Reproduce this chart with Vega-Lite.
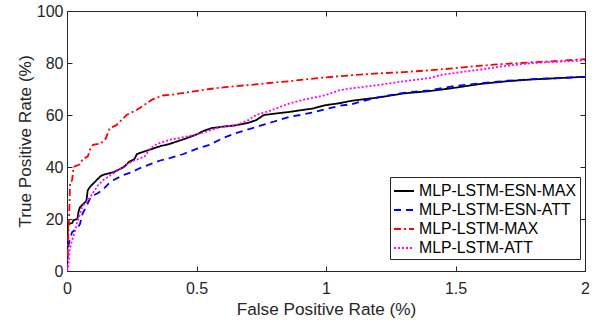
{
  "$schema": "https://vega.github.io/schema/vega-lite/v6.json",
  "autosize": {"type": "none"},
  "padding": {"left": 67, "top": 11, "right": 10, "bottom": 51},
  "width": 518,
  "height": 260,
  "background": "white",
  "config": {
    "view": {"stroke": "#262626", "strokeWidth": 1},
    "font": "Liberation Sans",
    "axis": {
      "domainColor": "#262626",
      "labelColor": "#262626",
      "titleColor": "#262626",
      "labelFont": "Liberation Sans",
      "titleFont": "Liberation Sans",
      "labelFontSize": 16,
      "titleFontSize": 17.2,
      "titleFontWeight": "normal",
      "labelFlush": false,
      "ticks": false,
      "grid": true,
      "gridColor": "#262626",
      "gridOpacity": 1,
      "gridWidth": 1
    }
  },
  "data": {
    "values": [
      {"model":"MLP-LSTM-ESN-MAX","fpr":0,"tpr":0},
      {"model":"MLP-LSTM-ESN-MAX","fpr":0.003,"tpr":18},
      {"model":"MLP-LSTM-ESN-MAX","fpr":0.02,"tpr":18.5},
      {"model":"MLP-LSTM-ESN-MAX","fpr":0.025,"tpr":19.5},
      {"model":"MLP-LSTM-ESN-MAX","fpr":0.04,"tpr":20},
      {"model":"MLP-LSTM-ESN-MAX","fpr":0.045,"tpr":23},
      {"model":"MLP-LSTM-ESN-MAX","fpr":0.05,"tpr":24.5},
      {"model":"MLP-LSTM-ESN-MAX","fpr":0.065,"tpr":26},
      {"model":"MLP-LSTM-ESN-MAX","fpr":0.075,"tpr":27},
      {"model":"MLP-LSTM-ESN-MAX","fpr":0.08,"tpr":31},
      {"model":"MLP-LSTM-ESN-MAX","fpr":0.09,"tpr":32.5},
      {"model":"MLP-LSTM-ESN-MAX","fpr":0.1,"tpr":33.5},
      {"model":"MLP-LSTM-ESN-MAX","fpr":0.11,"tpr":34.5},
      {"model":"MLP-LSTM-ESN-MAX","fpr":0.12,"tpr":35.5},
      {"model":"MLP-LSTM-ESN-MAX","fpr":0.13,"tpr":36.5},
      {"model":"MLP-LSTM-ESN-MAX","fpr":0.14,"tpr":37},
      {"model":"MLP-LSTM-ESN-MAX","fpr":0.16,"tpr":37.5},
      {"model":"MLP-LSTM-ESN-MAX","fpr":0.18,"tpr":38},
      {"model":"MLP-LSTM-ESN-MAX","fpr":0.2,"tpr":39},
      {"model":"MLP-LSTM-ESN-MAX","fpr":0.22,"tpr":40},
      {"model":"MLP-LSTM-ESN-MAX","fpr":0.24,"tpr":42},
      {"model":"MLP-LSTM-ESN-MAX","fpr":0.26,"tpr":43},
      {"model":"MLP-LSTM-ESN-MAX","fpr":0.27,"tpr":45},
      {"model":"MLP-LSTM-ESN-MAX","fpr":0.3,"tpr":46},
      {"model":"MLP-LSTM-ESN-MAX","fpr":0.33,"tpr":47},
      {"model":"MLP-LSTM-ESN-MAX","fpr":0.36,"tpr":48},
      {"model":"MLP-LSTM-ESN-MAX","fpr":0.4,"tpr":49},
      {"model":"MLP-LSTM-ESN-MAX","fpr":0.43,"tpr":50},
      {"model":"MLP-LSTM-ESN-MAX","fpr":0.46,"tpr":51},
      {"model":"MLP-LSTM-ESN-MAX","fpr":0.5,"tpr":52.5},
      {"model":"MLP-LSTM-ESN-MAX","fpr":0.53,"tpr":54},
      {"model":"MLP-LSTM-ESN-MAX","fpr":0.56,"tpr":55},
      {"model":"MLP-LSTM-ESN-MAX","fpr":0.6,"tpr":55.5},
      {"model":"MLP-LSTM-ESN-MAX","fpr":0.65,"tpr":56},
      {"model":"MLP-LSTM-ESN-MAX","fpr":0.7,"tpr":57},
      {"model":"MLP-LSTM-ESN-MAX","fpr":0.73,"tpr":58},
      {"model":"MLP-LSTM-ESN-MAX","fpr":0.76,"tpr":60},
      {"model":"MLP-LSTM-ESN-MAX","fpr":0.8,"tpr":60.5},
      {"model":"MLP-LSTM-ESN-MAX","fpr":0.86,"tpr":61.2},
      {"model":"MLP-LSTM-ESN-MAX","fpr":0.9,"tpr":61.8},
      {"model":"MLP-LSTM-ESN-MAX","fpr":0.95,"tpr":62.5},
      {"model":"MLP-LSTM-ESN-MAX","fpr":1.0,"tpr":63.8},
      {"model":"MLP-LSTM-ESN-MAX","fpr":1.05,"tpr":64.5},
      {"model":"MLP-LSTM-ESN-MAX","fpr":1.1,"tpr":65.5},
      {"model":"MLP-LSTM-ESN-MAX","fpr":1.2,"tpr":66.7},
      {"model":"MLP-LSTM-ESN-MAX","fpr":1.3,"tpr":68.3},
      {"model":"MLP-LSTM-ESN-MAX","fpr":1.4,"tpr":69.2},
      {"model":"MLP-LSTM-ESN-MAX","fpr":1.5,"tpr":70.5},
      {"model":"MLP-LSTM-ESN-MAX","fpr":1.6,"tpr":72},
      {"model":"MLP-LSTM-ESN-MAX","fpr":1.7,"tpr":73},
      {"model":"MLP-LSTM-ESN-MAX","fpr":1.8,"tpr":73.7},
      {"model":"MLP-LSTM-ESN-MAX","fpr":1.9,"tpr":74.2},
      {"model":"MLP-LSTM-ESN-MAX","fpr":2.0,"tpr":74.7},

      {"model":"MLP-LSTM-ESN-ATT","fpr":0,"tpr":0},
      {"model":"MLP-LSTM-ESN-ATT","fpr":0.003,"tpr":8},
      {"model":"MLP-LSTM-ESN-ATT","fpr":0.01,"tpr":12},
      {"model":"MLP-LSTM-ESN-ATT","fpr":0.02,"tpr":15},
      {"model":"MLP-LSTM-ESN-ATT","fpr":0.04,"tpr":16.5},
      {"model":"MLP-LSTM-ESN-ATT","fpr":0.05,"tpr":18},
      {"model":"MLP-LSTM-ESN-ATT","fpr":0.06,"tpr":22},
      {"model":"MLP-LSTM-ESN-ATT","fpr":0.07,"tpr":24},
      {"model":"MLP-LSTM-ESN-ATT","fpr":0.08,"tpr":26},
      {"model":"MLP-LSTM-ESN-ATT","fpr":0.09,"tpr":28},
      {"model":"MLP-LSTM-ESN-ATT","fpr":0.1,"tpr":29},
      {"model":"MLP-LSTM-ESN-ATT","fpr":0.12,"tpr":30},
      {"model":"MLP-LSTM-ESN-ATT","fpr":0.14,"tpr":31.5},
      {"model":"MLP-LSTM-ESN-ATT","fpr":0.16,"tpr":33.5},
      {"model":"MLP-LSTM-ESN-ATT","fpr":0.18,"tpr":35},
      {"model":"MLP-LSTM-ESN-ATT","fpr":0.2,"tpr":36},
      {"model":"MLP-LSTM-ESN-ATT","fpr":0.22,"tpr":37},
      {"model":"MLP-LSTM-ESN-ATT","fpr":0.25,"tpr":38},
      {"model":"MLP-LSTM-ESN-ATT","fpr":0.28,"tpr":39.5},
      {"model":"MLP-LSTM-ESN-ATT","fpr":0.32,"tpr":41},
      {"model":"MLP-LSTM-ESN-ATT","fpr":0.36,"tpr":42.5},
      {"model":"MLP-LSTM-ESN-ATT","fpr":0.4,"tpr":43.5},
      {"model":"MLP-LSTM-ESN-ATT","fpr":0.45,"tpr":45},
      {"model":"MLP-LSTM-ESN-ATT","fpr":0.5,"tpr":47},
      {"model":"MLP-LSTM-ESN-ATT","fpr":0.55,"tpr":48.5},
      {"model":"MLP-LSTM-ESN-ATT","fpr":0.6,"tpr":51},
      {"model":"MLP-LSTM-ESN-ATT","fpr":0.65,"tpr":53},
      {"model":"MLP-LSTM-ESN-ATT","fpr":0.7,"tpr":54.5},
      {"model":"MLP-LSTM-ESN-ATT","fpr":0.75,"tpr":56},
      {"model":"MLP-LSTM-ESN-ATT","fpr":0.8,"tpr":57.5},
      {"model":"MLP-LSTM-ESN-ATT","fpr":0.86,"tpr":59.3},
      {"model":"MLP-LSTM-ESN-ATT","fpr":0.9,"tpr":60},
      {"model":"MLP-LSTM-ESN-ATT","fpr":0.95,"tpr":61},
      {"model":"MLP-LSTM-ESN-ATT","fpr":1.0,"tpr":62.3},
      {"model":"MLP-LSTM-ESN-ATT","fpr":1.05,"tpr":63.5},
      {"model":"MLP-LSTM-ESN-ATT","fpr":1.1,"tpr":64.2},
      {"model":"MLP-LSTM-ESN-ATT","fpr":1.15,"tpr":65.5},
      {"model":"MLP-LSTM-ESN-ATT","fpr":1.2,"tpr":66.8},
      {"model":"MLP-LSTM-ESN-ATT","fpr":1.3,"tpr":68.5},
      {"model":"MLP-LSTM-ESN-ATT","fpr":1.4,"tpr":69.5},
      {"model":"MLP-LSTM-ESN-ATT","fpr":1.5,"tpr":71.2},
      {"model":"MLP-LSTM-ESN-ATT","fpr":1.6,"tpr":72.2},
      {"model":"MLP-LSTM-ESN-ATT","fpr":1.7,"tpr":73.2},
      {"model":"MLP-LSTM-ESN-ATT","fpr":1.8,"tpr":73.8},
      {"model":"MLP-LSTM-ESN-ATT","fpr":1.9,"tpr":74.2},
      {"model":"MLP-LSTM-ESN-ATT","fpr":2.0,"tpr":74.7},

      {"model":"MLP-LSTM-MAX","fpr":0,"tpr":0},
      {"model":"MLP-LSTM-MAX","fpr":0.003,"tpr":10},
      {"model":"MLP-LSTM-MAX","fpr":0.008,"tpr":20},
      {"model":"MLP-LSTM-MAX","fpr":0.012,"tpr":34},
      {"model":"MLP-LSTM-MAX","fpr":0.02,"tpr":35},
      {"model":"MLP-LSTM-MAX","fpr":0.025,"tpr":40},
      {"model":"MLP-LSTM-MAX","fpr":0.05,"tpr":41},
      {"model":"MLP-LSTM-MAX","fpr":0.06,"tpr":43},
      {"model":"MLP-LSTM-MAX","fpr":0.08,"tpr":44},
      {"model":"MLP-LSTM-MAX","fpr":0.09,"tpr":47},
      {"model":"MLP-LSTM-MAX","fpr":0.1,"tpr":48.5},
      {"model":"MLP-LSTM-MAX","fpr":0.13,"tpr":49},
      {"model":"MLP-LSTM-MAX","fpr":0.15,"tpr":51},
      {"model":"MLP-LSTM-MAX","fpr":0.165,"tpr":55},
      {"model":"MLP-LSTM-MAX","fpr":0.19,"tpr":56},
      {"model":"MLP-LSTM-MAX","fpr":0.21,"tpr":58},
      {"model":"MLP-LSTM-MAX","fpr":0.23,"tpr":60},
      {"model":"MLP-LSTM-MAX","fpr":0.25,"tpr":61},
      {"model":"MLP-LSTM-MAX","fpr":0.27,"tpr":62},
      {"model":"MLP-LSTM-MAX","fpr":0.3,"tpr":64},
      {"model":"MLP-LSTM-MAX","fpr":0.33,"tpr":66},
      {"model":"MLP-LSTM-MAX","fpr":0.37,"tpr":67.5},
      {"model":"MLP-LSTM-MAX","fpr":0.42,"tpr":68},
      {"model":"MLP-LSTM-MAX","fpr":0.48,"tpr":69},
      {"model":"MLP-LSTM-MAX","fpr":0.55,"tpr":70},
      {"model":"MLP-LSTM-MAX","fpr":0.62,"tpr":70.8},
      {"model":"MLP-LSTM-MAX","fpr":0.7,"tpr":71.5},
      {"model":"MLP-LSTM-MAX","fpr":0.78,"tpr":72.3},
      {"model":"MLP-LSTM-MAX","fpr":0.86,"tpr":73},
      {"model":"MLP-LSTM-MAX","fpr":0.93,"tpr":73.8},
      {"model":"MLP-LSTM-MAX","fpr":1.0,"tpr":74.5},
      {"model":"MLP-LSTM-MAX","fpr":1.1,"tpr":75.3},
      {"model":"MLP-LSTM-MAX","fpr":1.2,"tpr":76},
      {"model":"MLP-LSTM-MAX","fpr":1.3,"tpr":76.5},
      {"model":"MLP-LSTM-MAX","fpr":1.4,"tpr":77.2},
      {"model":"MLP-LSTM-MAX","fpr":1.5,"tpr":78},
      {"model":"MLP-LSTM-MAX","fpr":1.6,"tpr":79},
      {"model":"MLP-LSTM-MAX","fpr":1.7,"tpr":79.7},
      {"model":"MLP-LSTM-MAX","fpr":1.8,"tpr":80.3},
      {"model":"MLP-LSTM-MAX","fpr":1.9,"tpr":80.8},
      {"model":"MLP-LSTM-MAX","fpr":2.0,"tpr":81.5},

      {"model":"MLP-LSTM-ATT","fpr":0,"tpr":0},
      {"model":"MLP-LSTM-ATT","fpr":0.005,"tpr":1},
      {"model":"MLP-LSTM-ATT","fpr":0.01,"tpr":8},
      {"model":"MLP-LSTM-ATT","fpr":0.02,"tpr":12},
      {"model":"MLP-LSTM-ATT","fpr":0.03,"tpr":15},
      {"model":"MLP-LSTM-ATT","fpr":0.04,"tpr":19},
      {"model":"MLP-LSTM-ATT","fpr":0.05,"tpr":22},
      {"model":"MLP-LSTM-ATT","fpr":0.06,"tpr":25},
      {"model":"MLP-LSTM-ATT","fpr":0.08,"tpr":27},
      {"model":"MLP-LSTM-ATT","fpr":0.1,"tpr":30},
      {"model":"MLP-LSTM-ATT","fpr":0.12,"tpr":33},
      {"model":"MLP-LSTM-ATT","fpr":0.14,"tpr":35},
      {"model":"MLP-LSTM-ATT","fpr":0.17,"tpr":37},
      {"model":"MLP-LSTM-ATT","fpr":0.2,"tpr":39},
      {"model":"MLP-LSTM-ATT","fpr":0.23,"tpr":41},
      {"model":"MLP-LSTM-ATT","fpr":0.26,"tpr":42.5},
      {"model":"MLP-LSTM-ATT","fpr":0.3,"tpr":44},
      {"model":"MLP-LSTM-ATT","fpr":0.32,"tpr":47},
      {"model":"MLP-LSTM-ATT","fpr":0.35,"tpr":49},
      {"model":"MLP-LSTM-ATT","fpr":0.4,"tpr":50.5},
      {"model":"MLP-LSTM-ATT","fpr":0.45,"tpr":51.5},
      {"model":"MLP-LSTM-ATT","fpr":0.5,"tpr":52.5},
      {"model":"MLP-LSTM-ATT","fpr":0.55,"tpr":54},
      {"model":"MLP-LSTM-ATT","fpr":0.6,"tpr":55.5},
      {"model":"MLP-LSTM-ATT","fpr":0.65,"tpr":56},
      {"model":"MLP-LSTM-ATT","fpr":0.7,"tpr":58},
      {"model":"MLP-LSTM-ATT","fpr":0.73,"tpr":60},
      {"model":"MLP-LSTM-ATT","fpr":0.78,"tpr":61.5},
      {"model":"MLP-LSTM-ATT","fpr":0.82,"tpr":63},
      {"model":"MLP-LSTM-ATT","fpr":0.86,"tpr":64.5},
      {"model":"MLP-LSTM-ATT","fpr":0.92,"tpr":66},
      {"model":"MLP-LSTM-ATT","fpr":1.0,"tpr":67.7},
      {"model":"MLP-LSTM-ATT","fpr":1.05,"tpr":69.5},
      {"model":"MLP-LSTM-ATT","fpr":1.1,"tpr":70.3},
      {"model":"MLP-LSTM-ATT","fpr":1.2,"tpr":71.5},
      {"model":"MLP-LSTM-ATT","fpr":1.3,"tpr":73},
      {"model":"MLP-LSTM-ATT","fpr":1.4,"tpr":74.2},
      {"model":"MLP-LSTM-ATT","fpr":1.45,"tpr":75.5},
      {"model":"MLP-LSTM-ATT","fpr":1.5,"tpr":76.2},
      {"model":"MLP-LSTM-ATT","fpr":1.6,"tpr":77.5},
      {"model":"MLP-LSTM-ATT","fpr":1.7,"tpr":79},
      {"model":"MLP-LSTM-ATT","fpr":1.8,"tpr":80},
      {"model":"MLP-LSTM-ATT","fpr":1.9,"tpr":80.5},
      {"model":"MLP-LSTM-ATT","fpr":2.0,"tpr":81}
    ]
  },
  "mark": {"type": "line", "strokeWidth": 1.8, "clip": true},
  "encoding": {
    "x": {
      "field": "fpr", "type": "quantitative",
      "scale": {"domain": [0, 2], "nice": false},
      "axis": {"title": "False Positive Rate (%)", "values": [0, 0.5, 1, 1.5, 2], "format": "~g", "labelPadding": 9, "titlePadding": 4, "gridDash": [5, 250]}
    },
    "y": {
      "field": "tpr", "type": "quantitative",
      "scale": {"domain": [0, 100], "nice": false},
      "axis": {"title": "True Positive Rate (%)", "values": [0, 20, 40, 60, 80, 100], "labelPadding": 4, "titlePadding": 2, "gridDash": [5, 508]}
    },
    "color": {
      "field": "model", "type": "nominal",
      "scale": {
        "domain": ["MLP-LSTM-ESN-MAX", "MLP-LSTM-ESN-ATT", "MLP-LSTM-MAX", "MLP-LSTM-ATT"],
        "range": ["#000000", "#0000ff", "#ff0000", "#ff00ff"]
      },
      "legend": {
        "title": null,
        "orient": "none",
        "legendX": 323,
        "legendY": 166,
        "symbolType": "stroke",
        "symbolSize": 400,
        "symbolStrokeWidth": 1.8,
        "labelFontSize": 15.8,
        "labelFont": "Liberation Sans",
        "labelColor": "#000000",
        "labelOffset": 4,
        "rowPadding": 0,
        "padding": 3,
        "strokeColor": "#262626",
        "fillColor": "#ffffff"
      }
    },
    "strokeDash": {
      "field": "model", "type": "nominal",
      "scale": {
        "domain": ["MLP-LSTM-ESN-MAX", "MLP-LSTM-ESN-ATT", "MLP-LSTM-MAX", "MLP-LSTM-ATT"],
        "range": [[1, 0], [7, 5], [7, 3, 2, 3], [2, 2]]
      },
      "legend": {
        "title": null,
        "orient": "none",
        "legendX": 323,
        "legendY": 166,
        "symbolType": "stroke",
        "symbolSize": 400,
        "symbolStrokeWidth": 1.8,
        "labelFontSize": 15.8,
        "labelFont": "Liberation Sans",
        "labelColor": "#000000",
        "labelOffset": 4,
        "rowPadding": 0,
        "padding": 3,
        "strokeColor": "#262626",
        "fillColor": "#ffffff"
      }
    }
  }
}
